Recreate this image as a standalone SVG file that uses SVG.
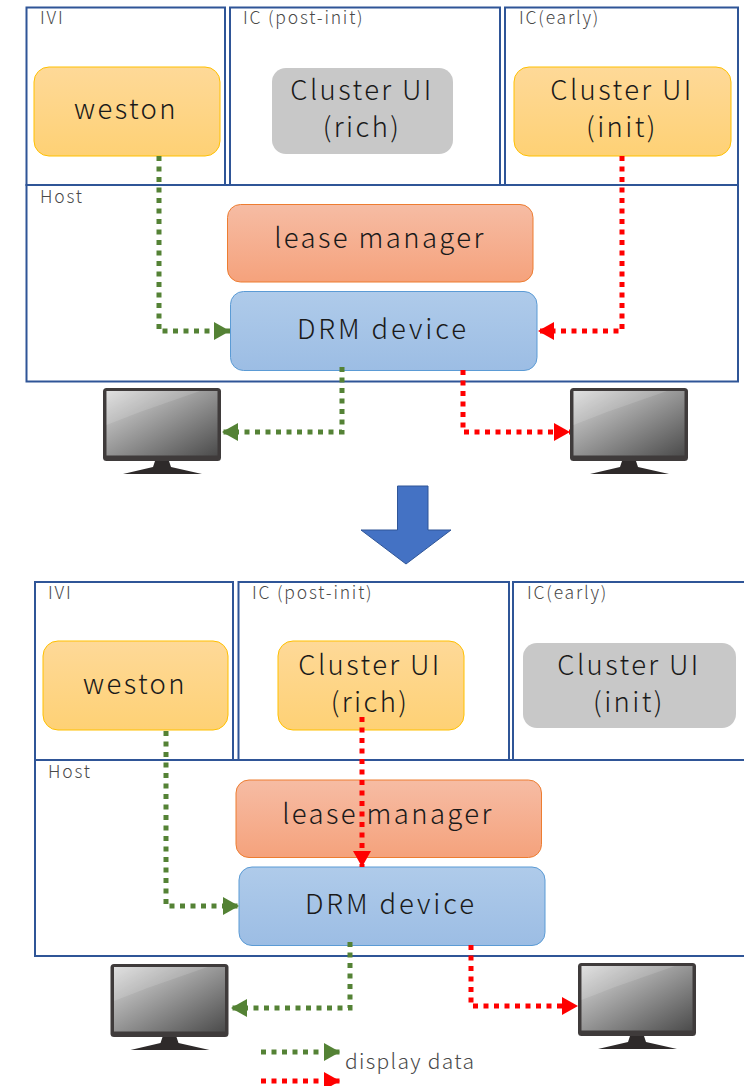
<svg xmlns="http://www.w3.org/2000/svg" width="744" height="1086" viewBox="0 0 744 1086">
<style>
text{font-family:"Noto Sans CJK JP","Noto Sans",sans-serif;text-anchor:middle;fill:#1a1a1a;font-weight:300}
.box{fill:#fff;stroke:#2f5597;stroke-width:2}
.lab{font-size:17.5px;text-anchor:start;fill:#484848;letter-spacing:1.8px}
.t{font-size:27.5px;letter-spacing:2.4px}
.d{letter-spacing:2.9px}
.gold{fill:url(#gold);stroke:#ffc000;stroke-width:1}
.gray{fill:#c8c8c8}
.red{fill:url(#red);stroke:#ed7d31;stroke-width:1}
.blue{fill:url(#blue);stroke:#5b9bd5;stroke-width:1}
.g{fill:none;stroke:#548235;stroke-width:5;stroke-dasharray:5 5.500}
.r{fill:none;stroke:#ff0000;stroke-width:5;stroke-dasharray:5 5.500}
</style>
<defs>
<linearGradient id="gold" x1="0" y1="0" x2="0" y2="1"><stop offset="0" stop-color="#fed998"/><stop offset="1" stop-color="#fed175"/></linearGradient>
<linearGradient id="red" x1="0" y1="0" x2="0" y2="1"><stop offset="0" stop-color="#f6bca4"/><stop offset="1" stop-color="#f5a27c"/></linearGradient>
<linearGradient id="blue" x1="0" y1="0" x2="0" y2="1"><stop offset="0" stop-color="#afcbea"/><stop offset="1" stop-color="#9cbde4"/></linearGradient>
<linearGradient id="scr" x1="0" y1="0" x2="1" y2="1"><stop offset="0" stop-color="#dcdcdc"/><stop offset=".5" stop-color="#949494"/><stop offset="1" stop-color="#4c4c4c"/></linearGradient>
<marker id="ag" markerUnits="userSpaceOnUse" markerWidth="17" markerHeight="18" refX="16" refY="9" orient="auto"><path d="M0 0L16 9L0 18Z" fill="#548235"/></marker>
<marker id="ar" markerUnits="userSpaceOnUse" markerWidth="17" markerHeight="18" refX="16" refY="9" orient="auto"><path d="M0 0L16 9L0 18Z" fill="#ff0000"/></marker>
<g id="mon">
<rect x="103" y="388" width="118" height="73" rx="3.500" fill="#3f3b3b"/>
<rect x="106.500" y="391" width="111" height="64.500" fill="url(#scr)"/>
<path d="M106.500 425V391H200L140 412Z" fill="#fff" opacity=".13"/>
<path d="M155 461H169L171 467L202 474H123L153 467Z" fill="#2e2a2a"/>
</g>
</defs>

<g id="top-ivi"><rect class="box" x="26.500" y="7.500" width="198.500" height="177.500"/><text class="lab" x="40" y="24">IVI</text></g>
<g id="top-ic-post"><rect class="box" x="230" y="7.500" width="270" height="177.500"/><text class="lab" x="243" y="24">IC (post-init)</text></g>
<g id="top-ic-early"><rect class="box" x="505" y="7.500" width="233" height="177.500"/><text class="lab" x="519" y="24">IC(early)</text></g>
<g id="top-host"><rect class="box" x="26.500" y="185" width="711.500" height="196.500"/><text class="lab" x="40" y="203">Host</text></g>
<g id="top-weston"><rect class="gold" x="34" y="67" width="186" height="89" rx="15"/><text class="t" x="126" y="119">weston</text></g>
<g id="top-rich"><rect class="gray" x="272" y="68" width="181" height="86" rx="14"/><text class="t" x="362" y="100">Cluster UI</text><text class="t" x="362" y="137">(rich)</text></g>
<g id="top-init"><rect class="gold" x="514" y="67" width="217" height="89" rx="15"/><text class="t" x="622" y="100">Cluster UI</text><text class="t" x="622" y="137">(init)</text></g>
<g id="top-lease"><rect class="red" x="227.500" y="204.500" width="305.500" height="77.500" rx="13"/><text class="t" x="380" y="248">lease manager</text></g>
<g id="top-drm"><rect class="blue" x="230.500" y="291.500" width="306.500" height="79" rx="13"/><text class="t d" x="383" y="339">DRM device</text></g>
<g id="top-mon-l"><use href="#mon"/></g>
<g id="top-mon-r"><use href="#mon" x="467"/></g>

<g id="arrow"><path d="M397.500 486H428V530H451L406 564L361 530H397.500Z" fill="#4472c4" stroke="#2f5597"/></g>

<g id="bot-ivi"><rect class="box" x="35" y="582" width="198" height="178"/><text class="lab" x="48" y="599">IVI</text></g>
<g id="bot-ic-post"><rect class="box" x="238.500" y="582" width="270.500" height="178"/><text class="lab" x="252" y="599">IC (post-init)</text></g>
<g id="bot-ic-early"><rect class="box" x="513" y="582" width="233" height="178"/><text class="lab" x="527" y="599">IC(early)</text></g>
<g id="bot-host"><rect class="box" x="35" y="760" width="711" height="196"/><text class="lab" x="48" y="778">Host</text></g>
<g id="bot-weston"><rect class="gold" x="43" y="641" width="185" height="89" rx="15"/><text class="t" x="135" y="694">weston</text></g>
<g id="bot-rich"><rect class="gold" x="278" y="641" width="186" height="89" rx="15"/><text class="t" x="370" y="675">Cluster UI</text><text class="t" x="370" y="712">(rich)</text></g>
<g id="bot-init"><rect class="gray" x="523" y="643" width="213" height="85" rx="14"/><text class="t" x="629" y="675">Cluster UI</text><text class="t" x="629" y="712">(init)</text></g>
<g id="bot-lease"><rect class="red" x="236" y="780" width="305.500" height="77.500" rx="13"/><text class="t" x="388" y="824">lease manager</text></g>
<g id="bot-drm"><rect class="blue" x="239" y="867" width="306" height="78.500" rx="13"/><text class="t d" x="391" y="914">DRM device</text></g>
<g id="bot-mon-l"><use href="#mon" x="7.500" y="576"/></g>
<g id="bot-mon-r"><use href="#mon" x="475" y="575"/></g>

<g id="connectors">
<path class="g" marker-end="url(#ag)" d="M159 156V331H230"/>
<path class="r" marker-end="url(#ar)" d="M622 156V331H538"/>
<path class="g" marker-end="url(#ag)" d="M342 367V432H222"/>
<path class="r" marker-end="url(#ar)" d="M463 370V432H570"/>
<path class="g" marker-end="url(#ag)" d="M166 731V906H239"/>
<path class="r" marker-end="url(#ar)" d="M362 717V867"/>
<path class="g" marker-end="url(#ag)" d="M350 942V1008H231"/>
<path class="r" marker-end="url(#ar)" d="M471 945V1006H578"/>
<path class="g" marker-end="url(#ag)" d="M261 1052H340"/>
<path class="r" marker-end="url(#ar)" d="M261 1081H340"/>
</g>
<text class="lab" style="font-size:21px;letter-spacing:1.3px" x="345" y="1069">display data</text>
</svg>
